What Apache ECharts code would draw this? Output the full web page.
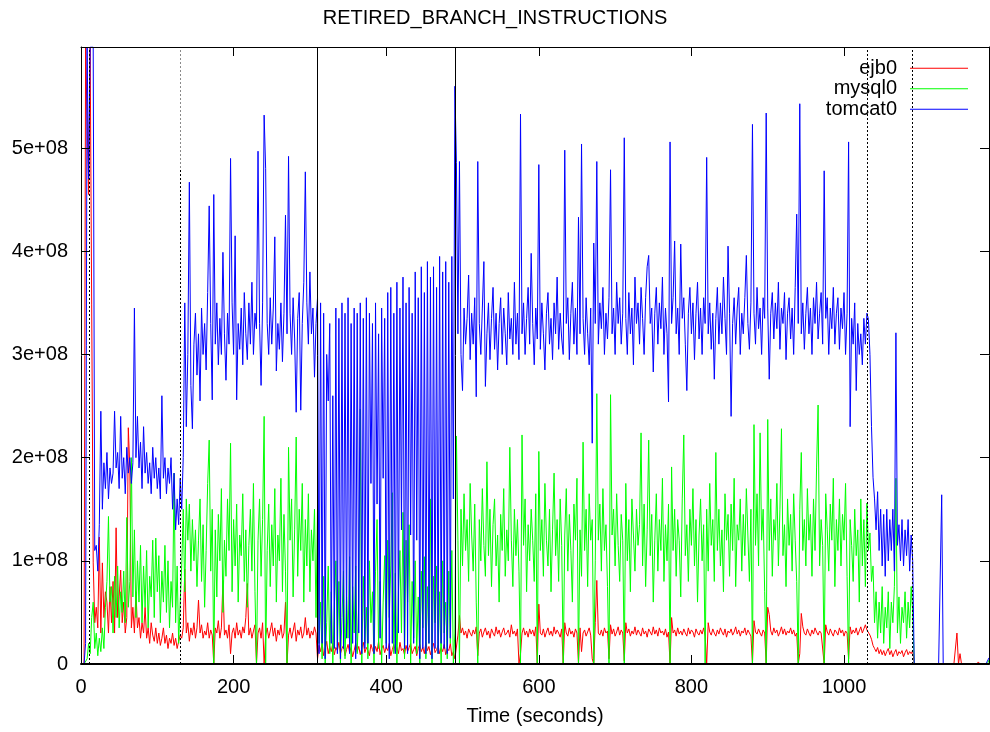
<!DOCTYPE html>
<html>
<head>
<meta charset="utf-8">
<title>RETIRED_BRANCH_INSTRUCTIONS</title>
<script src="https://cdn.jsdelivr.net/npm/echarts@6/dist/echarts.min.js"></script>
<style>
  html, body { margin: 0; padding: 0; background: #fff; }
  #chart { width: 990px; height: 732px; }
</style>
</head>
<body>
<div id="chart"></div>
<script>
// Counters are sampled every SAMPLE_SECONDS; values below are in millions of branches.
const SAMPLE_SECONDS = 2;
const UNIT = 1e6;

// Start time (s) of each block of samples: ramp-up, warm, burst, load, drain, idle.
const blockStarts = [0, 132, 310, 492, 1032, 1092];

// Phase boundaries (s)
const dottedMarks = [11, 1030, 1090];
const splitMark = 130;
const splitMarkLevel = 480;          // millions, where the split marker turns solid black
const solidMarks = [309, 491];

// Axis ticks
const timeTicks = [0, 200, 400, 600, 800, 1000];
const timeMax = 1190;
const countTicks = [0, 100, 200, 300, 400, 500];   // millions
const countMax = 598;                                // millions

// ---- tomcat0 ----
const tomcatRamp = [
  0, 0, 0, 20, 598, 470, 598, 598, 598, 110,
  115, 90, 135, 245, 150, 195, 170, 205, 160, 190,
  175, 185, 245, 190, 205, 170, 240, 180, 200, 165,
  210, 185, 200, 175, 195, 345, 200, 240, 190, 215,
  170, 230, 185, 205, 175, 195, 165, 210, 180, 200,
  170, 190, 160, 260, 180, 200, 165, 190, 175, 200,
  150, 185, 130, 160, 135, 180
];
const tomcatWarm = [
  150, 200, 350, 230, 300, 467, 270, 228, 310, 340,
  280, 320, 255, 345, 300, 330, 285, 360, 444, 330,
  256, 455, 310, 350, 290, 335, 300, 399, 320, 275,
  340, 310, 490, 350, 300, 415, 256, 330, 305, 345,
  290, 360, 320, 295, 350, 310, 370, 300, 340, 325,
  497, 330, 270, 350, 532, 480, 330, 300, 355, 310,
  345, 414, 284, 330, 305, 350, 293, 340, 435, 320,
  492, 340, 300, 355, 315, 244, 335, 360, 246, 330,
  370, 477, 350, 310, 380, 320, 345, 278, 330
];
const tomcatBurst = [
  355, 10, 350, 20, 340, 5, 300, 255, 330, 20,
  260, 15, 345, 10, 335, 5, 350, 15, 340, 25,
  355, 10, 330, 20, 345, 5, 340, 30, 350, 10,
  335, 15, 355, 20, 340, 175, 330, 10, 350, 155,
  320, 25, 345, 180, 335, 15, 360, 5, 365, 20,
  340, 10, 370, 30, 345, 130, 375, 15, 350, 10,
  365, 125, 340, 20, 380, 120, 355, 5, 385, 15,
  360, 10, 390, 20, 375, 5, 385, 15, 365, 10,
  395, 20, 380, 15, 390, 10, 370, 25, 395, 160,
  560
];
const tomcatLoad = [
  486, 320, 487, 300, 265, 345, 310, 335, 377, 295,
  340, 310, 355, 259, 487, 330, 300, 345, 390, 269,
  320, 350, 295, 335, 365, 305, 340, 285, 330, 355,
  300, 345, 320, 290, 360, 315, 335, 300, 370, 310,
  340, 295, 533, 320, 350, 300, 335, 365, 310, 398,
  330, 290, 345, 315, 484, 305, 350, 320, 285, 340,
  360, 310, 335, 295, 350, 320, 375, 305, 340, 315,
  300, 498, 330, 355, 295, 340, 370, 310, 345, 300,
  433, 320, 504, 335, 300, 355, 320, 290, 345, 214,
  408, 330, 487, 310, 350, 325, 365, 300, 340, 315,
  355, 479, 320, 345, 300, 370, 330, 355, 310, 340,
  510, 335, 300, 360, 320, 345, 290, 375, 330, 350,
  310, 365, 335, 300, 355, 385, 396, 330, 345, 283,
  340, 365, 310, 350, 325, 375, 300, 345, 320, 254,
  506, 330, 355, 410, 320, 345, 300, 407, 335, 355,
  310, 265, 340, 365, 320, 350, 295, 340, 370, 315,
  345, 300, 355, 330, 491, 320, 350, 305, 340, 276,
  335, 365, 310, 350, 320, 375, 335, 300, 405, 340,
  240, 330, 355, 310, 345, 365, 300, 340, 320, 355,
  396, 330, 305, 350, 523, 340, 310, 365, 325, 345,
  300, 355, 335, 534, 345, 276, 340, 360, 315, 350,
  325, 370, 305, 345, 330, 360, 295, 340, 355, 315,
  345, 300, 365, 436, 330, 543, 320, 350, 305, 340,
  365, 320, 345, 300, 355, 330, 370, 315, 340, 360,
  310, 478, 335, 355, 300, 345, 325, 365, 310, 340,
  355, 305, 345, 325, 360, 300, 340, 506, 230, 335,
  310, 350, 265, 330, 300, 320, 290, 335, 310, 340
];
const tomcatDrain = [
  334, 300, 230, 181, 160, 130, 167, 110, 150, 95,
  145, 85, 150, 100, 140, 110, 150, 90, 321, 115,
  135, 100, 140, 95, 130, 105, 140, 90, 125, 100
];
const tomcatIdle = [
  0, 0, 0, 0, 0, 0, 0, 0, 0, 0,
  0, 0, 0, 0, 0, 0, 0, 0, 164, 0,
  0, 0, 0, 0, 0, 0, 0, 0, 0, 0,
  0, 0, 0, 0, 0, 0, 0, 0, 0, 0,
  0, 0, 0, 0, 0, 0, 0, 0, 0, 6
];

// ---- mysql0 ----
const mysqlRamp = [
  0, 0, 0, 0, 5, 20, 10, 45, 60, 15,
  30, 8, 25, 12, 35, 15, 55, 80, 143, 60,
  75, 30, 85, 45, 95, 35, 70, 50, 90, 40,
  142, 55, 80, 200, 65, 130, 45, 100, 60, 115,
  40, 95, 55, 110, 35, 85, 65, 120, 45, 122,
  70, 105, 40, 90, 60, 115, 50, 100, 35, 80,
  55, 185, 40, 95, 20, 60
];
const mysqlWarm = [
  95, 150, 70, 160, 120, 155, 90, 140, 100, 130,
  75, 120, 160, 80, 135, 55, 110, 175, 217, 90,
  150, 0, 130, 65, 145, 100, 170, 50, 120, 85,
  160, 110, 214, 70, 140, 95, 155, 60, 125, 105,
  165, 80, 130, 55, 115, 150, 90, 175, 70, 0,
  120, 160, 85, 140, 240, 0, 110, 155, 75, 135,
  95, 170, 60, 125, 100, 180, 70, 145, 90, 0,
  210, 120, 160, 65, 130, 220, 85, 150, 110, 175,
  60, 140, 95, 165, 70, 130, 100, 150, 45
];
const mysqlBurst = [
  152, 20, 60, 5, 85, 0, 40, 95, 10, 70,
  0, 55, 100, 15, 80, 0, 45, 90, 5, 65,
  25, 104, 0, 75, 30, 95, 10, 60, 247, 0,
  85, 20, 55, 5, 100, 40, 70, 0, 90, 140,
  15, 80, 0, 60, 105, 20, 120, 45, 95, 166,
  10, 88, 0, 70, 110, 30, 147, 5, 120, 60,
  135, 0, 80, 25, 100, 10, 65, 0, 90, 35,
  104, 5, 75, 20, 160, 0, 85, 40, 95, 10,
  70, 0, 100, 30, 60, 5, 90, 20, 110, 0,
  30
];
const mysqlLoad = [
  221, 120, 0, 150, 95, 165, 110, 140, 80, 175,
  125, 90, 155, 60, 0, 140, 100, 170, 115, 85,
  196, 105, 150, 75, 135, 160, 95, 125, 60, 145,
  110, 170, 85, 130, 100, 210, 120, 75, 150, 105,
  140, 90, 0, 222, 115, 160, 70, 135, 100, 150,
  120, 80, 165, 0, 206, 110, 140, 85, 175, 120,
  95, 150, 70, 130, 185, 105, 140, 80, 160, 115,
  0, 125, 170, 90, 145, 110, 60, 155, 120, 180,
  0, 130, 85, 215, 110, 150, 75, 165, 120, 140,
  0, 100, 262, 120, 155, 90, 170, 110, 135, 75,
  0, 261, 125, 150, 95, 165, 115, 80, 145, 120,
  0, 175, 100, 140, 70, 160, 125, 90, 150, 115,
  135, 224, 95, 155, 75, 130, 217, 105, 145, 60,
  120, 165, 90, 140, 110, 180, 80, 135, 100, 155,
  0, 191, 110, 150, 85, 140, 120, 65, 160, 222,
  105, 135, 80, 150, 115, 170, 95, 140, 60, 125,
  160, 100, 135, 0, 150, 90, 175, 115, 140, 80,
  205, 110, 150, 95, 130, 70, 165, 120, 145, 85,
  155, 110, 180, 75, 135, 120, 160, 90, 145, 105,
  170, 125, 80, 150, 0, 232, 115, 165, 95, 224,
  120, 150, 70, 0, 237, 110, 160, 85, 140, 120,
  175, 95, 150, 228, 105, 135, 75, 160, 115, 145,
  90, 165, 120, 80, 0, 150, 205, 110, 140, 95,
  170, 120, 145, 85, 160, 110, 190, 251, 95, 140,
  115, 0, 165, 130, 90, 155, 120, 180, 75, 140,
  110, 160, 95, 145, 120, 175, 85, 0, 140, 115,
  80, 150, 105, 130, 60, 160, 95, 140, 75, 156
];
const mysqlDrain = [
  110, 127, 80, 95, 40, 70, 25, 60, 30, 75,
  20, 55, 35, 70, 15, 60, 40, 75, 180, 30,
  65, 20, 55, 40, 70, 25, 60, 35, 75, 50
];
const mysqlIdle = [
  0, 0, 0, 0, 0, 0, 0, 0, 0, 0,
  0, 0, 0, 0, 0, 0, 0, 0, 0, 0,
  0, 0, 0, 0, 0, 0, 0, 0, 0, 0,
  0, 0, 0, 0, 0, 0, 0, 0, 0, 0,
  0, 0, 0, 0, 0, 0, 0, 0, 0, 4
];

// ---- ejb0 ----
const ejbRamp = [
  0, 0, 0, 598, 598, 455, 598, 598, 98, 40,
  55, 35, 123, 30, 98, 45, 70, 60, 30, 75,
  40, 80, 30, 132, 45, 65, 91, 40, 60, 30,
  45, 229, 190, 35, 55, 30, 70, 35, 45, 25,
  40, 30, 55, 25, 35, 20, 40, 28, 22, 35,
  20, 30, 18, 25, 35, 20, 28, 15, 25, 20,
  30, 18, 25, 15, 22, 28
];
const ejbWarm = [
  25, 35, 92, 30, 40, 22, 35, 28, 40, 25,
  35, 62, 30, 38, 25, 32, 28, 40, 25, 33,
  28, 0, 35, 30, 42, 25, 35, 81, 28, 33,
  25, 38, 10, 30, 35, 25, 40, 28, 33, 25,
  36, 30, 45, 78, 28, 35, 25, 32, 38, 0,
  30, 35, 25, 40, 0, 28, 35, 25, 32, 40,
  27, 35, 22, 33, 28, 38, 25, 30, 60, 0,
  28, 35, 25, 32, 40, 22, 33, 28, 36, 25,
  30, 45, 28, 35, 25, 32, 28, 36, 30
];
const ejbBurst = [
  5, 18, 12, 20, 8, 15, 22, 10, 17, 12,
  20, 9, 16, 13, 21, 10, 15, 18, 8, 14,
  19, 11, 16, 7, 13, 20, 12, 17, 9, 15,
  21, 11, 16, 13, 8, 19, 14, 10, 17, 12,
  22, 9, 15, 18, 11, 16, 13, 20, 8, 14,
  19, 12, 16, 10, 21, 13, 15, 9, 18, 12,
  16, 20, 10, 14, 17, 8, 15, 19, 12, 16,
  10, 21, 13, 17, 9, 15, 20, 11, 14, 18,
  10, 16, 12, 19, 9, 15, 13, 20, 8, 12,
  5
];
const ejbLoad = [
  5, 28, 47, 30, 35, 28, 32, 25, 34, 30,
  27, 33, 29, 36, 8, 30, 34, 26, 31, 35,
  28, 32, 25, 34, 30, 27, 36, 29, 33, 26,
  31, 35, 28, 30, 33, 26, 38, 29, 32, 27,
  34, 0, 10, 30, 35, 28, 32, 26, 34, 29,
  33, 27, 36, 0, 58, 30, 28, 34, 26, 31,
  35, 28, 32, 27, 36, 29, 33, 30, 26, 34,
  0, 40, 30, 27, 35, 29, 32, 26, 34, 30,
  0, 35, 12, 30, 33, 27, 31, 35, 28, 5,
  0, 40, 81, 30, 28, 33, 27, 35, 30, 32,
  5, 38, 29, 34, 27, 31, 36, 28, 33, 30,
  3, 40, 30, 34, 27, 32, 29, 36, 28, 33,
  30, 27, 35, 29, 32, 26, 34, 31, 28, 36,
  29, 33, 27, 35, 30, 32, 28, 34, 26, 31,
  0, 45, 30, 33, 27, 35, 29, 32, 28, 34,
  30, 27, 35, 29, 33, 31, 26, 34, 30, 28,
  33, 29, 35, 27, 0, 40, 31, 28, 34, 30,
  27, 33, 29, 35, 31, 28, 34, 26, 32, 30,
  34, 28, 31, 36, 29, 33, 27, 32, 30, 35,
  28, 33, 30, 27, 0, 42, 31, 29, 34, 30,
  27, 33, 30, 0, 55, 48, 32, 28, 35, 30,
  33, 27, 31, 36, 29, 34, 28, 32, 30, 35,
  29, 33, 27, 30, 0, 10, 49, 36, 30, 28,
  34, 30, 27, 33, 29, 35, 31, 28, 32, 30,
  30, 0, 38, 31, 28, 34, 30, 27, 33, 31,
  28, 35, 30, 33, 27, 32, 30, 5, 36, 29,
  33, 30, 35, 28, 32, 36, 30, 34, 38, 33
];
const ejbDrain = [
  33, 28, 24, 18, 15, 12, 16, 10, 14, 9,
  13, 8, 12, 15, 9, 13, 7, 11, 14, 8,
  12, 10, 13, 7, 11, 14, 9, 12, 10, 13
];
const ejbIdle = [
  0, 0, 0, 0, 0, 0, 0, 0, 0, 0,
  0, 0, 0, 0, 0, 0, 0, 0, 0, 0,
  0, 0, 0, 0, 0, 0, 0, 0, 30, 0,
  10, 0, 0, 0, 0, 0, 0, 0, 0, 0,
  0, 0, 2, 0, 0, 0, 0, 0, 0, 0
];

// Join the blocks of one counter into [time, value] pairs.
function toPoints(blocks) {
  const points = [];
  blocks.forEach(function (block, b) {
    block.forEach(function (v, i) {
      points.push([blockStarts[b] + i * SAMPLE_SECONDS, v * UNIT]);
    });
  });
  return points;
}

const ejbPoints = toPoints([ejbRamp, ejbWarm, ejbBurst, ejbLoad, ejbDrain, ejbIdle]);
const mysqlPoints = toPoints([mysqlRamp, mysqlWarm, mysqlBurst, mysqlLoad, mysqlDrain, mysqlIdle]);
const tomcatPoints = toPoints([tomcatRamp, tomcatWarm, tomcatBurst, tomcatLoad, tomcatDrain, tomcatIdle]);

const FONT = '"Liberation Sans", Arial, Helvetica, sans-serif';
const BLACK = '#000000';

const dotStyle = { color: BLACK, width: 1, type: [2, 2] };
const markData = [];
dottedMarks.forEach(function (t) { markData.push({ xAxis: t, lineStyle: dotStyle }); });
markData.push({ xAxis: splitMark, lineStyle: { color: '#8a8a8a', width: 1, type: [2, 2] } });
markData.push([
  { coord: [splitMark, 0], lineStyle: dotStyle },
  { coord: [splitMark, splitMarkLevel * UNIT] }
]);
solidMarks.forEach(function (t) { markData.push({ xAxis: t, lineStyle: { color: BLACK, width: 1, type: 'solid' } }); });

function lineSeries(name, color, points, extra) {
  return Object.assign({
    name: name,
    type: 'line',
    data: points,
    xAxisIndex: 0,
    yAxisIndex: 0,
    showSymbol: false,
    symbol: 'none',
    smooth: false,
    sampling: null,
    clip: true,
    animation: false,
    lineStyle: { color: color, width: 1 },
    itemStyle: { color: color },
    emphasis: { disabled: true }
  }, extra || {});
}

// The bottom border is a little heavier so that flat zero runs sit under it.
function timeAxis(position, withLabels) {
  return {
    type: 'value',
    position: position,
    min: 0,
    max: timeMax,
    interval: timeTicks[1] - timeTicks[0],
    z: 10,
    axisLine: { show: true, onZero: false, lineStyle: { color: BLACK, width: withLabels ? 2 : 1 } },
    axisTick: { show: true, inside: true, length: 9, lineStyle: { color: BLACK, width: 1 } },
    axisLabel: {
      show: withLabels,
      margin: 13,
      fontSize: 20,
      fontFamily: FONT,
      color: BLACK,
      showMaxLabel: false,
      formatter: function (v) { return timeTicks.indexOf(v) >= 0 ? String(v) : ''; }
    },
    splitLine: { show: false },
    name: withLabels ? 'Time (seconds)' : '',
    nameLocation: 'middle',
    nameGap: 42,
    nameTextStyle: { fontSize: 20, fontFamily: FONT, color: BLACK }
  };
}

function countAxis(position, withLabels) {
  return {
    type: 'value',
    position: position,
    min: 0,
    max: countMax * UNIT,
    interval: (countTicks[1] - countTicks[0]) * UNIT,
    z: 10,
    axisLine: { show: true, onZero: false, lineStyle: { color: BLACK, width: 1 } },
    axisTick: { show: true, inside: true, length: 9, lineStyle: { color: BLACK, width: 1 } },
    axisLabel: {
      show: withLabels,
      margin: 13,
      fontSize: 20,
      fontFamily: FONT,
      color: BLACK,
      showMaxLabel: false,
      formatter: function (v) {
        const m = Math.round(v / UNIT);
        if (countTicks.indexOf(m) < 0) return '';
        return m === 0 ? '0' : (m / 100) + 'e+08';
      }
    },
    splitLine: { show: false }
  };
}

const chart = echarts.init(document.getElementById('chart'), null, { renderer: 'canvas' });
chart.setOption({
  animation: false,
  backgroundColor: '#ffffff',
  textStyle: { fontFamily: FONT },
  title: {
    text: 'RETIRED_BRANCH_INSTRUCTIONS',
    left: 'center',
    top: 3,
    textStyle: { fontSize: 20, fontWeight: 'normal', color: BLACK, fontFamily: FONT }
  },
  grid: { left: 81, right: 1, top: 47, bottom: 68, containLabel: false },
  legend: {
    data: ['ejb0', 'mysql0', 'tomcat0'],
    orient: 'vertical',
    right: 22,
    top: 58,
    align: 'right',
    icon: 'rect',
    itemWidth: 58,
    itemHeight: 1,
    itemGap: 0,
    padding: 0,
    selectedMode: false,
    textStyle: { fontSize: 20, color: BLACK, fontFamily: FONT, lineHeight: 20.5, padding: [0, 8, 0, 0] }
  },
  xAxis: [timeAxis('bottom', true), timeAxis('top', false)],
  yAxis: [countAxis('left', true), countAxis('right', false)],
  series: [
    lineSeries('ejb0', '#ff0000', ejbPoints),
    lineSeries('mysql0', '#00ff00', mysqlPoints),
    lineSeries('tomcat0', '#0000ff', tomcatPoints, {
      markLine: {
        silent: true,
        symbol: ['none', 'none'],
        label: { show: false },
        emphasis: { disabled: true },
        animation: false,
        z: 6,
        data: markData
      }
    })
  ]
});
</script>
</body>
</html>
